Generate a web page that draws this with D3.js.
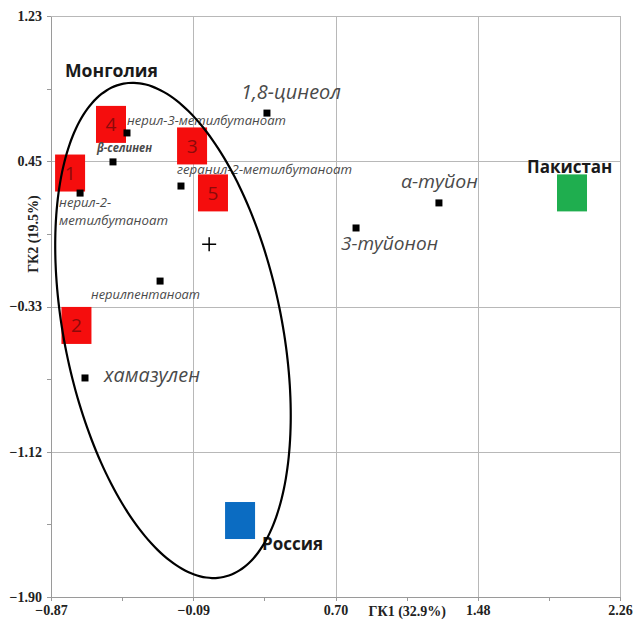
<!DOCTYPE html>
<meta charset="utf-8">
<style>
  body {
    margin: 0;
    background-color: #ffffff;
  }

  .axis text {
    font: bold 14px "Liberation Serif", serif;
    fill: #222;
  }

  .axis path,
  .axis line {
    fill: none;
    stroke: #9a9a9a;
    stroke-width: 1px;
    shape-rendering: crispEdges;
  }

  .grid line {
    stroke: #b8b8b8;
    stroke-width: 1px;
    shape-rendering: crispEdges;
  }

  .grid path {
    display: none;
  }

  .loading {
    font-family: "Open Sans", sans-serif;
    font-style: italic;
    fill: #4a4a4a;
  }

  .country {
    font: bold 17px "Open Sans", sans-serif;
    fill: #1a1a1a;
  }
</style>
<svg width="633" height="621"></svg>
<script src="https://d3js.org/d3.v7.min.js"></script>

<script>
  // axis ticks (as printed)
  var xTicks = [-0.87, -0.09, 0.70, 1.48, 2.26];
  var yTicks = [-1.90, -1.12, -0.33, 0.45, 1.23];

  // component loadings (black squares)
  var loadingNames = ["1,8-цинеол", "нерил-3-метилбутаноат", "β-селинен", "геранил-2-метилбутаноат",
    "нерил-2-\nметилбутаноат", "нерилпентаноат", "хамазулен", "α-туйон", "3-туйонон"];
  var loadingX = [0.318, -0.452, -0.529, -0.155, -0.71, -0.27, -0.683, 1.264, 0.808];
  var loadingY = [0.707, 0.600, 0.444, 0.314, 0.276, -0.198, -0.72, 0.223, 0.088];

  // Mongolian samples (red squares)
  var sampleNames = ["1", "2", "3", "4", "5"];
  var sampleX = [-0.765, -0.73, -0.094, -0.54, 0.021];
  var sampleY = [0.384, -0.437, 0.530, 0.646, 0.277];

  // other countries
  var countryNames = ["Пакистан", "Россия"];
  var countryX = [1.996, 0.170];
  var countryY = [0.277, -1.488];

  // confidence ellipse of the Mongolian group
  var ellipseCenter = [-0.199, -0.464];
  var ellipseAxes = [1.357, 0.598];
  var ellipseTilt = 11.8;

  // label placement: px offset from the point, font size, line widths
  var loadingLabelPos = [[-26, -14, 19.5], [0, -8, 12], [-16, -10, 11.5], [-4, -12, 12],
    [-21, 14, 12], [-69, 18, 12], [19, 4, 19.5], [-38, -15, 19], [-15, 22, 19]];
  var loadingLabelWidths = [[100], [159], [55], [175], [52, 109], [109], [96], [77], [97]];
  var countryLabelPos = [[-45, -20], [22, 29]];

  var svg = d3.select("svg"),
    margin = { top: 16, right: 13, bottom: 24, left: 51 },
    width = +svg.attr("width") - margin.left - margin.right,
    height = +svg.attr("height") - margin.top - margin.bottom;

  var x = d3.scaleLinear().domain([-0.87, 2.26]).range([0, width]),
    y = d3.scaleLinear().domain([-1.90, 1.23]).range([height, 0]);

  var colours = d3.scaleOrdinal()
    .domain(countryNames)
    .range(["#1fae4f", "#0b6cc2"]);

  var g = svg.append("g")
    .attr("transform", "translate(" + margin.left + "," + margin.top + ")");

  // major ticks split the range in four, minor ticks halfway
  var xMajor = d3.range(5).map(function (i) { return -0.87 + i * (2.26 + 0.87) / 4; });
  var yMajor = d3.range(5).map(function (i) { return -1.90 + i * (1.23 + 1.90) / 4; });
  var xMinor = d3.range(9).map(function (i) { return -0.87 + i * (2.26 + 0.87) / 8; });
  var yMinor = d3.range(9).map(function (i) { return -1.90 + i * (1.23 + 1.90) / 8; });

  g.append("g")
    .attr("class", "grid")
    .call(d3.axisLeft(y).tickValues(yMajor).tickSize(-width).tickFormat(""));

  g.append("g")
    .attr("class", "grid")
    .attr("transform", "translate(0," + height + ")")
    .call(d3.axisBottom(x).tickValues(xMajor).tickSize(-height).tickFormat(""));

  g.append("g")
    .attr("class", "axis")
    .attr("transform", "translate(0," + height + ")")
    .call(d3.axisBottom(x).tickValues(xMinor).tickSizeInner(4).tickSizeOuter(0).tickPadding(4)
      .tickFormat(function (d, i) { return i % 2 ? "" : d3.format(".2f")(xTicks[i / 2]); }));

  g.append("g")
    .attr("class", "axis")
    .call(d3.axisLeft(y).tickValues(yMinor).tickSizeInner(4).tickSizeOuter(0).tickPadding(5)
      .tickFormat(function (d, i) { return i % 2 ? "" : d3.format(".2f")(yTicks[i / 2]); }));

  // axis titles
  g.append("text")
    .attr("x", x(1.09))
    .attr("y", height + 19)
    .attr("text-anchor", "middle")
    .style("font", "bold 14px 'Liberation Serif', serif")
    .attr("fill", "#222")
    .text("ГК1 (32.9%)");

  g.append("text")
    .attr("transform", "translate(-13," + y(0.055) + ") rotate(-90)")
    .attr("text-anchor", "middle")
    .style("font", "bold 14px 'Liberation Serif', serif")
    .attr("fill", "#222")
    .text("ГК2 (19.5%)");

  // red sample squares
  var samples = g.selectAll(".sample")
    .data(sampleNames)
    .enter().append("g")
    .attr("class", "sample")
    .attr("transform", function (d, i) { return "translate(" + x(sampleX[i]) + "," + y(sampleY[i]) + ")"; });

  samples.append("rect")
    .attr("x", -15).attr("y", -18.5)
    .attr("width", 30).attr("height", 37)
    .attr("fill", "#f50d0d");

  samples.append("text")
    .attr("text-anchor", "middle")
    .attr("dy", "0.36em")
    .style("font", "19px 'Open Sans', sans-serif")
    .attr("fill", "#8c0a0a")
    .text(function (d) { return d; });

  // country squares
  g.selectAll(".countryBox")
    .data(countryNames)
    .enter().append("rect")
    .attr("class", "countryBox")
    .attr("x", function (d, i) { return x(countryX[i]) - 15; })
    .attr("y", function (d, i) { return y(countryY[i]) - 18.5; })
    .attr("width", 30).attr("height", 37)
    .attr("fill", function (d) { return colours(d); });

  g.selectAll(".country")
    .data(countryNames)
    .enter().append("text")
    .attr("class", "country")
    .attr("x", function (d, i) { return x(countryX[i]) + countryLabelPos[i][0]; })
    .attr("y", function (d, i) { return y(countryY[i]) + countryLabelPos[i][1]; })
    .text(function (d) { return d; });

  g.append("text")
    .attr("class", "country")
    .attr("x", x(-0.793))
    .attr("y", y(0.901))
    .attr("textLength", 93)
    .attr("lengthAdjust", "spacingAndGlyphs")
    .text("Монголия");

  // loadings
  g.selectAll(".point")
    .data(loadingNames)
    .enter().append("rect")
    .attr("class", "point")
    .attr("x", function (d, i) { return x(loadingX[i]) - 3.5; })
    .attr("y", function (d, i) { return y(loadingY[i]) - 3.5; })
    .attr("width", 7).attr("height", 7)
    .attr("fill", "#000");

  var labels = g.selectAll(".loading")
    .data(loadingNames)
    .enter().append("text")
    .attr("class", "loading")
    .attr("x", function (d, i) { return x(loadingX[i]) + loadingLabelPos[i][0]; })
    .attr("y", function (d, i) { return y(loadingY[i]) + loadingLabelPos[i][1]; })
    .style("font-size", function (d, i) { return loadingLabelPos[i][2] + "px"; })
    .style("font-weight", function (d) { return d == "β-селинен" ? "bold" : null; });

  labels.each(function (d, i) {
    var t = d3.select(this);
    d.split("\n").forEach(function (line, j) {
      t.append("tspan")
        .attr("x", t.attr("x"))
        .attr("dy", j ? "1.5em" : 0)
        .attr("textLength", loadingLabelWidths[i][j])
        .attr("lengthAdjust", "spacingAndGlyphs")
        .text(line);
    });
  });

  // origin cross
  g.append("path")
    .attr("d", "M" + (x(0) - 7) + "," + y(0) + "h14M" + x(0) + "," + (y(0) - 7) + "v14")
    .attr("stroke", "#000")
    .attr("stroke-width", 1.5);

  // ellipse
  var phi = ellipseTilt * Math.PI / 180;
  var ellipsePts = d3.range(0, 361, 3).map(function (a) {
    var t = a * Math.PI / 180;
    var u = ellipseAxes[0] * Math.cos(t), v = ellipseAxes[1] * Math.sin(t);
    return [ellipseCenter[0] - u * Math.sin(phi) + v * Math.cos(phi),
      ellipseCenter[1] + u * Math.cos(phi) + v * Math.sin(phi)];
  });

  g.append("path")
    .datum(ellipsePts)
    .attr("fill", "none")
    .attr("stroke", "#000")
    .attr("stroke-width", 2.2)
    .attr("d", d3.line().curve(d3.curveCardinalClosed)
      .x(function (d) { return x(d[0]); })
      .y(function (d) { return y(d[1]); }));
</script>
